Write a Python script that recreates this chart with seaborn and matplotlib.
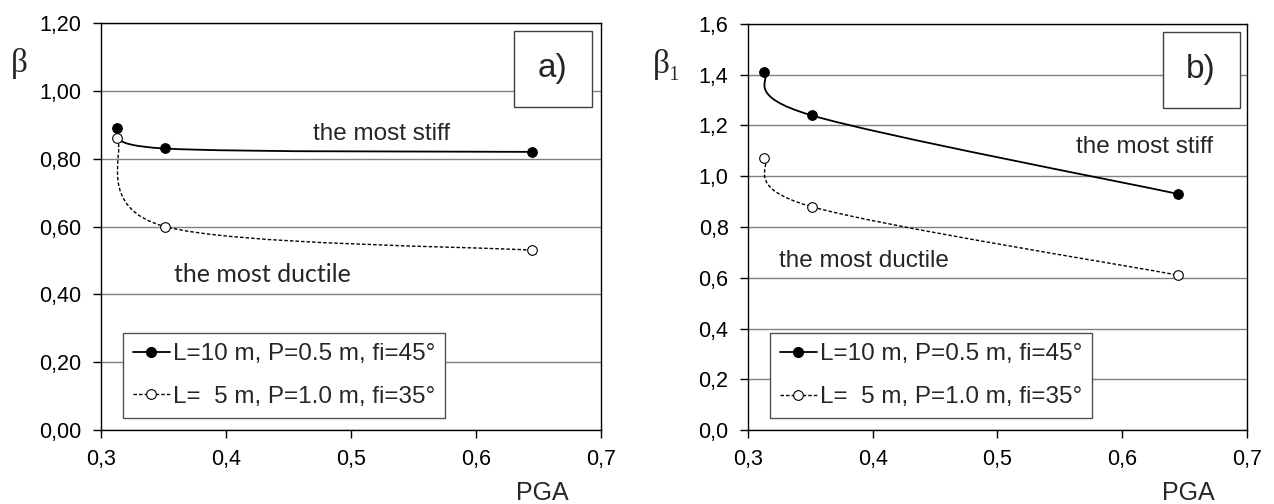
import numpy as np
import pandas as pd
import seaborn as sns
import matplotlib
matplotlib.use("Agg")
import matplotlib.pyplot as plt
from matplotlib.path import Path
from matplotlib.patches import PathPatch, Rectangle
from matplotlib.lines import Line2D
from matplotlib.ticker import FuncFormatter

# values
pga = [0.313, 0.351, 0.645]
beta_stiff = [0.89, 0.83, 0.82]
beta_ductile = [0.86, 0.60, 0.53]
beta1_stiff = [1.41, 1.24, 0.93]
beta1_ductile = [1.07, 0.88, 0.61]

label_stiff = "L=10 m, P=0.5 m, fi=45°"
label_ductile = "L=  5 m, P=1.0 m, fi=35°"

sns.set_theme(style="white")
plt.rcParams['font.family'] = ['Liberation Sans', 'DejaVu Sans']

DASH = (0, (2.5, 1.5))


def smooth_line(ax, xs, ys, **kw):
    # Excel-like smoothed line: Catmull-Rom through the points, done in screen space
    P = ax.transData.transform(np.column_stack([xs, ys]))
    n = len(P)
    verts = [P[0]]
    for i in range(n - 1):
        p0 = P[i - 1] if i > 0 else P[i]
        p3 = P[i + 2] if i + 2 < n else P[i + 1]
        verts.append(P[i] + (P[i + 1] - p0) / 6)
        verts.append(P[i + 1] - (p3 - P[i]) / 6)
        verts.append(P[i + 1])
    verts = ax.transData.inverted().transform(np.array(verts))
    codes = [Path.MOVETO] + [Path.CURVE4] * (3 * (n - 1))
    ax.add_patch(PathPatch(Path(verts, codes), fill=False, **kw))


def panel(ax, y_stiff, y_duct, ymax, fmt, tag, ylab, stiff_pos, duct_pos, duct_font, duct_size):
    ax.set_xlim(0.3, 0.7)
    ax.set_ylim(0, ymax)
    ax.set_xticks(np.arange(0.3, 0.71, 0.1))
    ax.set_yticks(np.arange(0, ymax + 1e-9, 0.2))
    ax.xaxis.set_major_formatter(FuncFormatter(lambda v, p: f"{v:.1f}".replace('.', ',')))
    ax.yaxis.set_major_formatter(FuncFormatter(lambda v, p: fmt.format(v).replace('.', ',')))
    ax.yaxis.grid(True, color='#808080', lw=1)
    ax.set_axisbelow(True)
    for s in ax.spines.values():
        s.set_color('black')
        s.set_linewidth(1)
    ax.tick_params(axis='both', which='major', direction='out', length=6, width=1,
                   color='black', labelsize=15.5, labelcolor='black', pad=8,
                   bottom=True, left=True)

    smooth_line(ax, pga, y_stiff, color='black', lw=1.3, zorder=3)
    smooth_line(ax, pga, y_duct, color='black', lw=1, linestyle=DASH, zorder=3)
    sns.scatterplot(x=pga, y=y_stiff, ax=ax, color='black', s=48, edgecolor='black',
                    linewidth=0.8, zorder=4)
    sns.scatterplot(x=pga, y=y_duct, ax=ax, color='white', s=48, edgecolor='black',
                    linewidth=0.8, zorder=5)

    handles = [
        Line2D([0], [0], color='black', lw=1.3, marker='o', ms=7, mfc='black', mec='black'),
        Line2D([0], [0], color='black', lw=1, linestyle=DASH, marker='o', ms=7,
               mfc='white', mec='black', mew=0.8),
    ]
    leg = ax.legend(handles, [label_stiff, label_ductile], loc='lower left',
                    bbox_to_anchor=(0.044, 0.029), borderaxespad=0, fontsize=17.5,
                    frameon=True, fancybox=False, framealpha=1, edgecolor='#505050',
                    handlelength=1.5, handletextpad=0.12, labelspacing=0.85,
                    borderpad=0.42)
    leg.get_frame().set_linewidth(1)
    leg.set_zorder(6)

    ax.add_patch(Rectangle((tag[1], 0.794), tag[2] - tag[1], 0.186, transform=ax.transAxes,
                           facecolor='white', edgecolor='#404040', lw=1, zorder=6))
    ax.text((tag[1] + tag[2]) / 2, 0.887, tag[0], transform=ax.transAxes, fontsize=24,
            ha='center', va='center', zorder=7)

    ax.text(stiff_pos[0], stiff_pos[1], "the most stiff", transform=ax.transAxes,
            fontsize=17.5, ha='left', va='center')
    ax.text(duct_pos[0], duct_pos[1], "the most ductile", transform=ax.transAxes,
            fontsize=duct_size, ha='left', va='center', family=duct_font)

    ax.text(0.83, -0.172, "PGA", transform=ax.transAxes, fontsize=18, ha='left',
            va='baseline')
    ax.text(-0.163, 0.9, ylab, transform=ax.transAxes, fontsize=24, ha='center',
            va='center', family=['Liberation Serif', 'DejaVu Serif'])


fig = plt.figure(figsize=(12.74, 5.04), dpi=100)
ax1 = fig.add_axes([101 / 1274, 74 / 504, 500 / 1274, 407 / 504])
ax2 = fig.add_axes([748 / 1274, 74 / 504, 499 / 1274, 406 / 504])

panel(ax1, beta_stiff, beta_ductile, 1.2, "{:.2f}", ("a)", 0.825, 0.981), "β",
      (0.424, 0.728), (0.145, 0.381), ['Lato', 'DejaVu Sans'], 18)
panel(ax2, beta1_stiff, beta1_ductile, 1.6, "{:.1f}", ("b)", 0.831, 0.985), "β₁",
      (0.658, 0.698), (0.062, 0.416), ['Liberation Sans', 'DejaVu Sans'], 17.5)

fig.savefig("out.png", dpi=100)
